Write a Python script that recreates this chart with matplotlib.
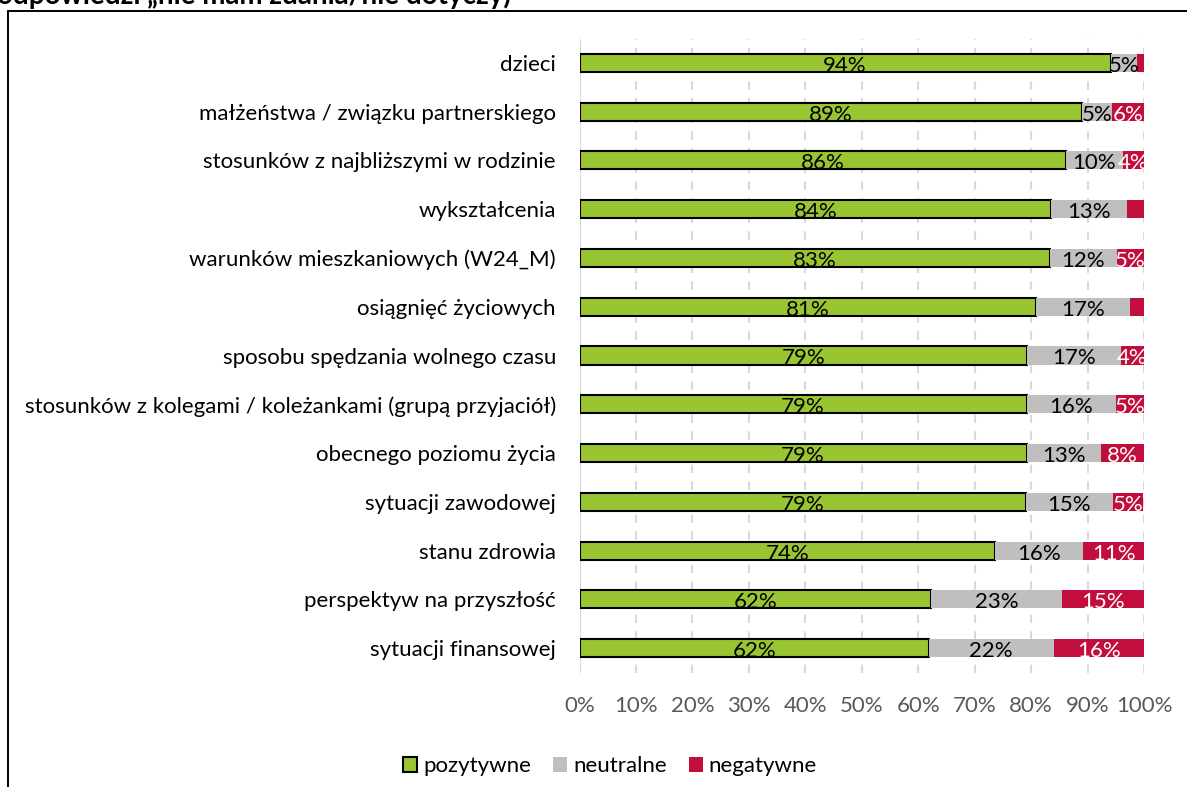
import matplotlib
matplotlib.use("Agg")
import matplotlib.pyplot as plt
from matplotlib.patches import Rectangle, Patch

plt.rcParams['font.family'] = ['Lato', 'DejaVu Sans']

categories = [
    "dzieci",
    "małżeństwa / związku partnerskiego",
    "stosunków z najbliższymi w rodzinie",
    "wykształcenia",
    "warunków mieszkaniowych (W24_M)",
    "osiągnięć życiowych",
    "sposobu spędzania wolnego czasu",
    "stosunków z kolegami / koleżankami (grupą przyjaciół)",
    "obecnego poziomu życia",
    "sytuacji zawodowej",
    "stanu zdrowia",
    "perspektyw na przyszłość",
    "sytuacji finansowej",
]
pozytywne = [94.1, 89.0, 86.1, 83.6, 83.3, 80.9, 79.3, 79.2, 79.2, 79.1, 73.6, 62.3, 61.9]
neutralne = [4.6, 5.3, 10.2, 13.4, 11.9, 16.6, 16.6, 15.9, 13.2, 15.4, 15.6, 23.1, 22.1]
negatywne = [1.3, 5.7, 3.7, 3.0, 4.8, 2.5, 4.1, 4.9, 7.6, 5.4, 10.8, 14.6, 16.0]
series_names = ["pozytywne", "neutralne", "negatywne"]
tick_labels = ["0%", "10%", "20%", "30%", "40%", "50%", "60%", "70%", "80%", "90%", "100%"]

GREEN = "#9AC533"
GRAY = "#BFBFBF"
RED = "#C20E3D"

W, H = 1187, 787
fig = plt.figure(figsize=(W / 100, H / 100), dpi=100)

# outer frame (partially cut)
frame = Rectangle((8 / W, -0.05), 1.2, 1 - 10.5 / H + 0.05, transform=fig.transFigure,
                  fill=False, edgecolor="#000000", linewidth=1.4, clip_on=False)
fig.patches.append(frame)

# cut-off title at top
fig.text(-3 / W, 1 - 4 / H, "odpowiedzi \u201enie mam zdania/nie dotyczy)", fontsize=20,
         fontweight="bold", ha="left", va="baseline", color="#000000")

left = 579.5 / W
right = 1144 / W
top = 1 - 38.5 / H
bottom = 1 - 672.5 / H
ax = fig.add_axes([left, bottom, right - left, top - bottom])

n = len(categories)
y = list(range(n))
bh = 0.37

ax.barh(y, pozytywne, height=bh, color=GREEN, edgecolor="#000000", linewidth=1.5, zorder=3)
ax.barh(y, neutralne, left=pozytywne, height=bh, color=GRAY, edgecolor="none", zorder=3)
left2 = [a + b for a, b in zip(pozytywne, neutralne)]
ax.barh(y, negatywne, left=left2, height=bh, color=RED, edgecolor="none", zorder=3)

fs = 16
for i in range(n):
    p, ne, ng = pozytywne[i], neutralne[i], negatywne[i]
    ax.text(p / 2, i + 0.06, f"{round(p)}%", ha="center", va="center", fontsize=fs,
            color="#000000", zorder=5)
    ax.text(p + ne / 2, i + 0.06, f"{round(ne)}%", ha="center", va="center", fontsize=fs,
            color="#000000", zorder=5)
    if ng >= 3.5:
        ax.text(p + ne + ng / 2, i + 0.06, f"{round(ng)}%", ha="center", va="center",
                fontsize=fs, color="#FFFFFF", zorder=5)

ax.set_xlim(0, 100)
ax.set_ylim(n - 0.5, -0.5)
ax.set_yticks(y)
ax.set_yticklabels(categories, fontsize=fs, color="#000000")
ax.set_xticks(range(0, 101, 10))
ax.set_xticklabels(tick_labels, fontsize=fs, color="#595959")
ax.tick_params(axis="both", length=0)
ax.tick_params(axis="y", pad=17)
ax.tick_params(axis="x", pad=17)
for s in ax.spines.values():
    s.set_visible(False)
ax.axvline(0, color="#D9D9D9", linewidth=1.5, zorder=1)
for xv in range(10, 101, 10):
    ax.axvline(xv, color="#D9D9D9", linewidth=1.5, linestyle=(0, (4, 4)), zorder=1)

handles = [Patch(facecolor=GREEN, edgecolor="#000000", linewidth=1.5),
           Patch(facecolor=GRAY, edgecolor="none"),
           Patch(facecolor=RED, edgecolor="none")]
fig.legend(handles, series_names, loc="center", bbox_to_anchor=(610 / W, 1 - 766 / H),
           ncol=3, frameon=False, fontsize=fs, handlelength=0.65, handleheight=0.65,
           handletextpad=0.25, columnspacing=1.0)

fig.savefig("out.png", dpi=100)
